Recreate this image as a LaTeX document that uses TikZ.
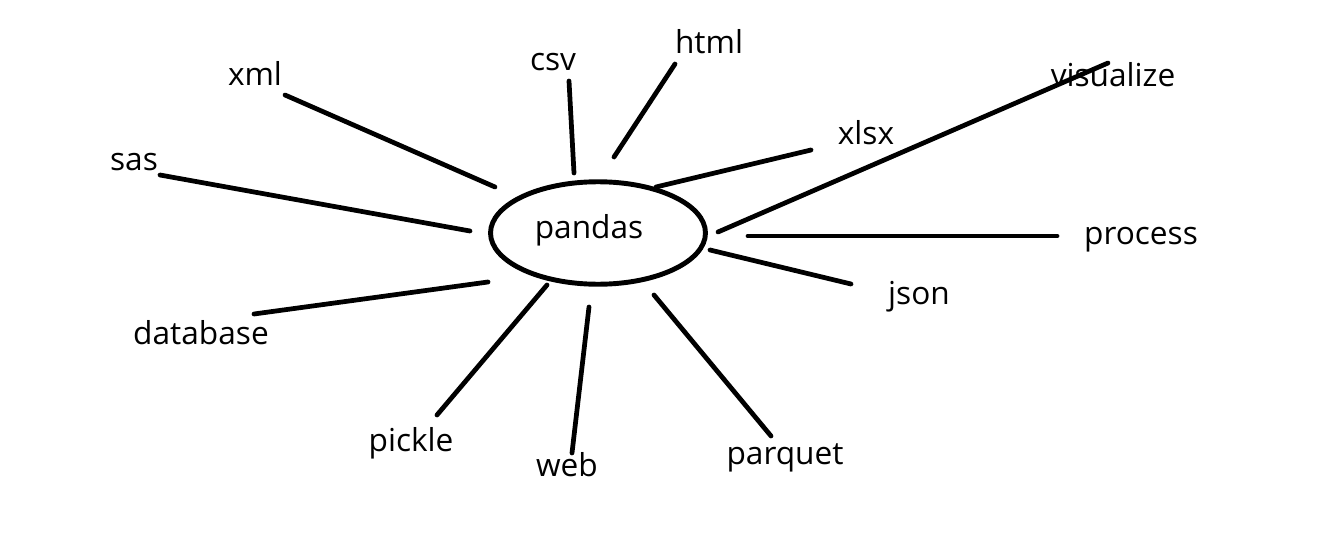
\documentclass[tikz,border=0pt]{standalone}
\usepackage{fontspec}
\setmainfont{Open Sans}
\usetikzlibrary{shapes.geometric}

\tikzset{
  word/.style = {inner sep=0pt, yshift=-2.2pt, font=\fontsize{18}{21}\selectfont},
  spoke/.style = {line width=2.7pt, line cap=round}
}

\begin{document}
\begin{tikzpicture}[x=0.02cm, y=-0.02cm]
\useasboundingbox (0,0) rectangle (1329,537) ;

% middle
\node[draw, ellipse, line width=2.8pt, minimum width=4.3cm, minimum height=2.05cm] (pandasring) at (598,233) {} ;
\node[word] (pandas) at (589,226) {pandas} ;

% labels round it
\node[word] (xml) at (255,70) {xml} ;
\node[word] (csv) at (553,58) {csv} ;
\node[word] (html) at (709,38) {html} ;
\node[word] (visualize) at (1113,71) {visualize} ;
\node[word] (xlsx) at (866,129) {xlsx} ;
\node[word] (sas) at (134,158) {sas} ;
\node[word] (process) at (1141,236) {process} ;
\node[word] (json) at (919,293) {json} ;
\node[word] (database) at (201,329) {database} ;
\node[word] (pickle) at (411,439) {pickle} ;
\node[word] (web) at (567,461) {web} ;
\node[word] (parquet) at (785,454) {parquet} ;

% ends of the spokes
\coordinate (xml-end) at (285,95) ;
\coordinate (xml-in) at (495,187) ;
\coordinate (csv-end) at (569,81) ;
\coordinate (csv-in) at (574,173) ;
\coordinate (html-end) at (675,64) ;
\coordinate (html-in) at (614,157) ;
\coordinate (sas-end) at (160,175) ;
\coordinate (sas-in) at (470,231) ;
\coordinate (xlsx-end) at (811,150) ;
\coordinate (xlsx-in) at (656,187) ;
\coordinate (visualize-end) at (1108,63) ;
\coordinate (visualize-in) at (718,232) ;
\coordinate (process-end) at (1057,236) ;
\coordinate (process-in) at (748,236) ;
\coordinate (json-end) at (851,284) ;
\coordinate (json-in) at (710,250) ;
\coordinate (database-end) at (254,314) ;
\coordinate (database-in) at (488,282) ;
\coordinate (pickle-end) at (437,415) ;
\coordinate (pickle-in) at (547,285) ;
\coordinate (web-end) at (572,453) ;
\coordinate (web-in) at (589,307) ;
\coordinate (parquet-end) at (771,436) ;
\coordinate (parquet-in) at (654,295) ;

\foreach \w in {xml,csv,html,sas,xlsx,visualize,process,json,database,pickle,web,parquet}
  \draw[spoke] (\w-end) -- (\w-in) ;
\end{tikzpicture}
\end{document}
